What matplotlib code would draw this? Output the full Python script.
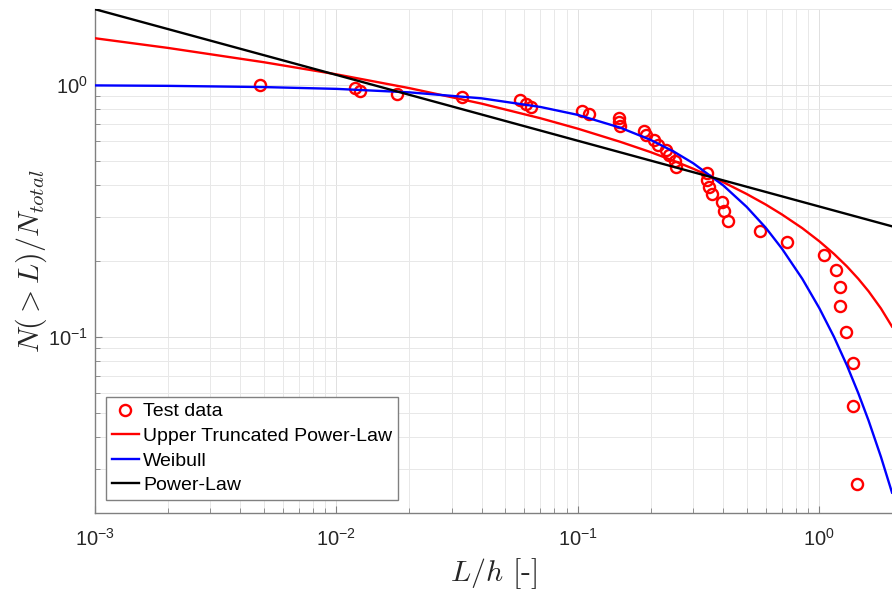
import matplotlib
matplotlib.use("Agg")
import matplotlib.pyplot as plt
from matplotlib.ticker import LogLocator, NullFormatter

# test data, N(>L)/N_total vs L/h
test_x = [0.00481, 0.01194, 0.01253, 0.01778, 0.03306, 0.0577, 0.0611, 0.0639,
          0.1042, 0.1109, 0.1474, 0.1483, 0.1497, 0.1883, 0.1924, 0.2057,
          0.2148, 0.2312, 0.2390, 0.2518, 0.2542, 0.3418, 0.3418, 0.3477,
          0.3601, 0.3937, 0.4032, 0.4169, 0.5658, 0.7371, 1.049, 1.173,
          1.218, 1.222, 1.294, 1.374, 1.379, 1.433]
test_y = [1.000, 0.974, 0.947, 0.921, 0.895, 0.868, 0.842, 0.816,
          0.789, 0.763, 0.737, 0.711, 0.684, 0.658, 0.632, 0.605,
          0.579, 0.553, 0.526, 0.500, 0.474, 0.447, 0.421, 0.395,
          0.368, 0.342, 0.316, 0.289, 0.263, 0.237, 0.211, 0.184,
          0.158, 0.132, 0.105, 0.079, 0.053, 0.026]

# fitted curves
fit_x = [0.001, 0.002, 0.005, 0.01, 0.02, 0.04, 0.07, 0.1, 0.15, 0.2, 0.25, 0.3,
         0.4, 0.5, 0.6, 0.7, 0.85, 1.0, 1.15, 1.3, 1.45, 1.6, 1.8, 2.0]
utpl_y = [1.531, 1.402, 1.230, 1.101, 0.971, 0.842, 0.737, 0.670, 0.594, 0.541,
          0.499, 0.465, 0.411, 0.369, 0.335, 0.306, 0.270, 0.2395, 0.2134,
          0.1905, 0.1700, 0.1516, 0.1296, 0.1099]
weibull_y = [0.995, 0.991, 0.980, 0.964, 0.934, 0.884, 0.817, 0.760, 0.676,
             0.605, 0.543, 0.489, 0.399, 0.328, 0.271, 0.224, 0.170, 0.130,
             0.100, 0.0772, 0.0598, 0.0465, 0.0334, 0.0241]
pl_x = [0.001, 0.01, 0.1, 1.0, 2.0]
pl_y = [1.996, 1.095, 0.600, 0.329, 0.2746]

plt.rcParams['font.family'] = ['Liberation Sans', 'DejaVu Sans']

fig = plt.figure(figsize=(8.92, 5.92), dpi=100)
ax = fig.add_axes([95/892, 79/592, 797/892, 504/592])

ax.plot(test_x, test_y, 'o', mfc='none', mec='red', ms=8, mew=1.7, label='Test data', zorder=3)
ax.plot(fit_x, utpl_y, '-', color='red', lw=1.7, label='Upper Truncated Power-Law', zorder=4)
ax.plot(fit_x, weibull_y, '-', color='blue', lw=1.7, label='Weibull', zorder=4)
ax.plot(pl_x, pl_y, '-', color='black', lw=1.7, label='Power-Law', zorder=4)

ax.set_xscale('log')
ax.set_yscale('log')
ax.set_xlim(1e-3, 2)
ax.set_ylim(0.02, 2)

ax.xaxis.set_major_locator(LogLocator(base=10, numticks=10))
ax.xaxis.set_minor_locator(LogLocator(base=10, subs=range(2, 10), numticks=20))
ax.yaxis.set_minor_locator(LogLocator(base=10, subs=range(2, 10), numticks=20))
ax.xaxis.set_minor_formatter(NullFormatter())
ax.yaxis.set_minor_formatter(NullFormatter())

ax.grid(True, which='major', color='#e0e0e0', lw=0.7)
ax.grid(True, which='minor', color='#e8e8e8', lw=0.7)
ax.set_axisbelow(True)

for s in ['top', 'right']:
    ax.spines[s].set_visible(False)
for s in ['left', 'bottom']:
    ax.spines[s].set_color('#808080')
    ax.spines[s].set_linewidth(1.0)

ax.tick_params(which='both', direction='in', color='#808080', labelcolor='#262626', labelsize=14.5)
ax.tick_params(which='major', length=5, width=0.8)
ax.tick_params(which='minor', length=3.5, width=0.6)
ax.tick_params(axis='x', which='major', pad=11)
ax.tick_params(axis='y', which='major', pad=5)

ax.set_xlabel(r'$L/h$ [-]', fontsize=21.5, family='cmr10', math_fontfamily='cm',
              color='#262626', labelpad=4)
ax.set_ylabel(r'$N(>L)/N_{total}$', fontsize=21.5, math_fontfamily='cm',
              color='#262626', labelpad=-1)

leg = ax.legend(loc='lower left', bbox_to_anchor=(11/797, 13/504), borderaxespad=0,
                fontsize=14, handlelength=1.4, handletextpad=0.2, labelspacing=0.36,
                borderpad=0.3, fancybox=False, framealpha=1, edgecolor='#808080')
leg.get_frame().set_linewidth(1.0)

fig.savefig('out.png', dpi=100)
